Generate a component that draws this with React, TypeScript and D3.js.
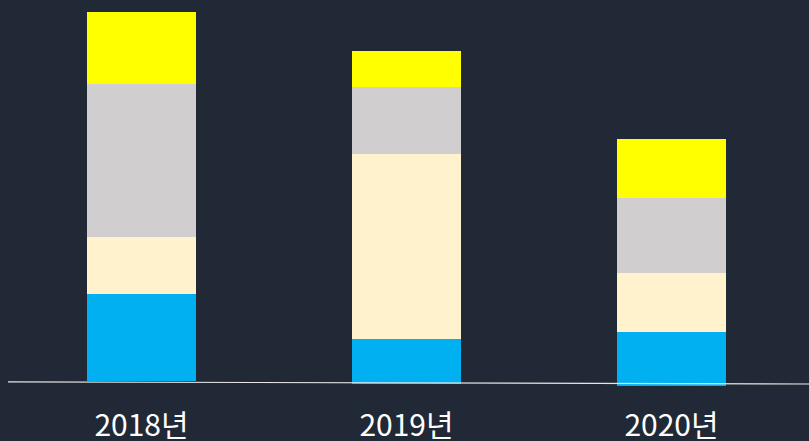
import React from "react";
import * as d3 from "d3";

const categories = ["2018년", "2019년", "2020년"];
const seriesNames = ["blue", "cream", "gray", "yellow"];
const blueValues = [87, 45, 54];
const creamValues = [57, 185, 59];
const grayValues = [153, 67, 75];
const yellowValues = [72, 36, 59];
const seriesColors = ["#00b0f0", "#fff2cc", "#d0cece", "#ffff00"];

const W = 809;
const H = 441;

export default function App() {
  const rows = categories.map((c, i) => ({
    cat: c,
    blue: blueValues[i],
    cream: creamValues[i],
    gray: grayValues[i],
    yellow: yellowValues[i],
  }));
  const stack = d3.stack<any>().keys(seriesNames)(rows);
  const x = d3.scalePoint<string>().domain(categories).range([9, 804]).padding(0.5);
  const y = d3.scaleLinear().domain([0, 400]).range([0, 400]);
  const barW = 109;
  const tilt = (cx: number) => Math.round(381 + (cx - 141.5) * 0.0095);
  const color = d3.scaleOrdinal<string>().domain(seriesNames).range(seriesColors);

  return (
    <svg
      width={W}
      height={H}
      style={{ position: "absolute", left: 0, top: 0, display: "block" }}
    >
      <rect x={0} y={0} width={W} height={H} fill="#222936" />
      {stack.map((s) => (
        <g key={s.key} fill={color(s.key)} shapeRendering="crispEdges">
          {s.map((d, i) => {
            const cx = x(categories[i]) as number;
            const base = tilt(cx);
            return (
              <rect
                key={i}
                x={Math.round(cx - barW / 2)}
                y={base - y(d[1])}
                width={barW}
                height={y(d[1]) - y(d[0])}
              />
            );
          })}
        </g>
      ))}
      <line x1={8} y1={381.8} x2={809} y2={384} stroke="#e6e6e6" strokeWidth={1.2} />
      {categories.map((c) => (
        <text
          key={c}
          x={x(c) as number}
          y={436}
          textAnchor="middle"
          fill="#ffffff"
          fontFamily="'Noto Sans CJK KR', 'Noto Sans', sans-serif"
          fontSize={30}
        >
          {c}
        </text>
      ))}
    </svg>
  );
}
